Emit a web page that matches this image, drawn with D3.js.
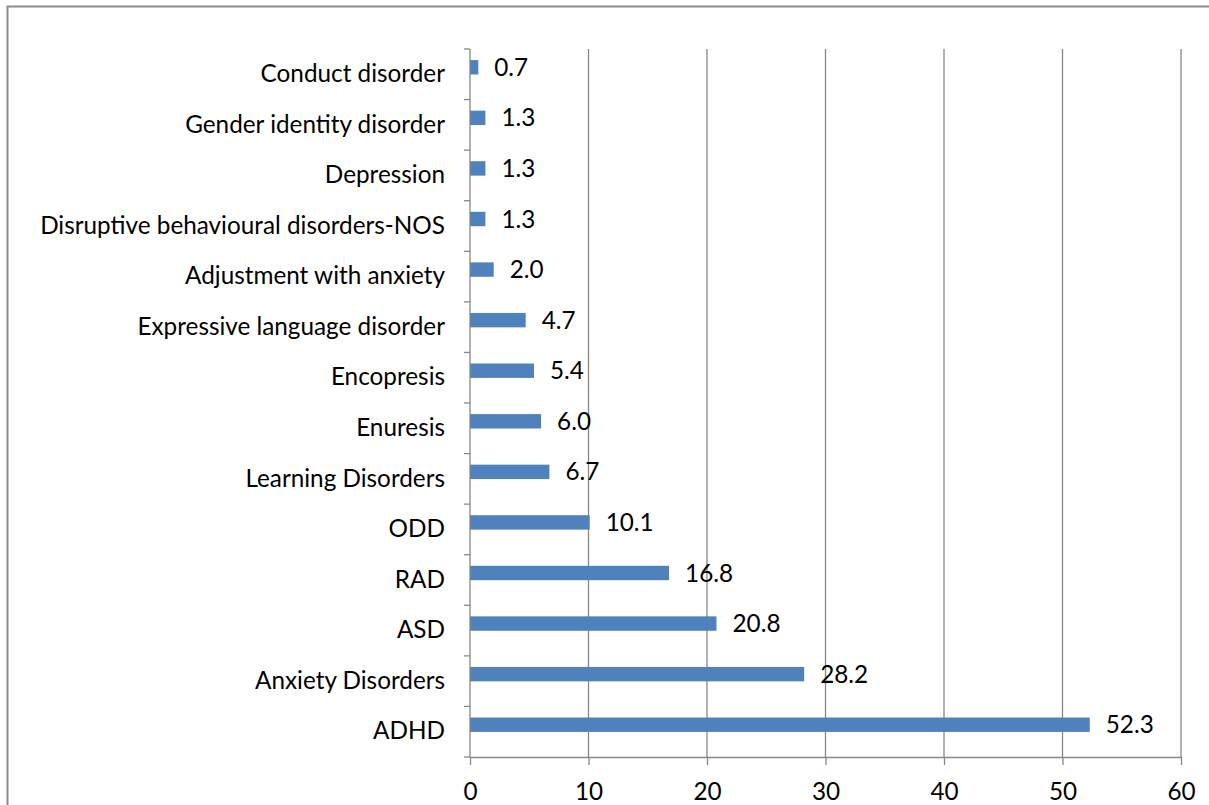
<!DOCTYPE html>
<html><head><meta charset="utf-8">
<script src="https://cdn.jsdelivr.net/npm/d3@7"></script>
<style>html,body{margin:0;padding:0;background:#fff;}svg{display:block;}</style>
</head><body>
<svg id="chart" width="1209" height="805"></svg>
<script>
const categories = ["ADHD","Anxiety Disorders","ASD","RAD","ODD","Learning Disorders","Enuresis","Encopresis","Expressive language disorder","Adjustment with anxiety","Disruptive behavioural disorders-NOS","Depression","Gender identity disorder","Conduct disorder"];
const values = [52.3,28.2,20.8,16.8,10.1,6.7,6.0,5.4,4.7,2.0,1.3,1.3,1.3,0.7];
const xTicks = [0,10,20,30,40,50,60];

(function(){
const svg = d3.select("#chart");
const font = "Lato, 'Open Sans', sans-serif";
const pLeft = 470, pRight = 1181, pTop = 49, pBottom = 757;

// outer border (left + top)
svg.append("path").attr("d","M7.5,805 V6.5 H1209").attr("fill","none").attr("stroke","#8c8c8c").attr("stroke-width",2);

const x = d3.scaleLinear().domain([0,60]).range([pLeft,pRight]);
const y = d3.scaleBand().domain(categories.slice().reverse()).range([pTop,pBottom]);

// fit font size to longest label width
const probe = svg.append("text").attr("font-family",font).attr("font-size",20).text("Disruptive behavioural disorders-NOS");
const w20 = probe.node().getComputedTextLength();
probe.remove();
const fs = 20*405/w20;

// gridlines
svg.append("g").selectAll("line").data(xTicks.filter(d=>d>0)).join("line")
  .attr("x1",d=>x(d)).attr("x2",d=>x(d)).attr("y1",pTop).attr("y2",pBottom)
  .attr("stroke","#878787").attr("stroke-width",1.3);

// bars
const bh = 14.4;
svg.append("g").selectAll("rect").data(categories).join("rect")
  .attr("x",x(0)).attr("y",(d)=>y(d)+y.bandwidth()/2-7-bh/2)
  .attr("width",(d,i)=>x(values[i])-x(0)).attr("height",bh)
  .attr("fill","#4f81bd");

// value labels
svg.append("g").selectAll("text").data(categories).join("text")
  .attr("x",(d,i)=>x(values[i])+16).attr("y",d=>y(d)+y.bandwidth()/2-7)
  .attr("dy","0.35em").attr("font-family",font).attr("font-size",fs).attr("fill","#000")
  .text((d,i)=>values[i].toFixed(1));

// y axis
const yAxis = d3.axisLeft(y).tickSize(0).tickPadding(25);
const gy = svg.append("g").attr("transform",`translate(${pLeft},0)`).call(yAxis);
gy.select(".domain").remove();
gy.selectAll("text").attr("font-family",font).attr("font-size",fs).attr("fill","#000");
// category boundary ticks
const bounds = d3.range(categories.length+1).map(i=>pTop+i*y.step());
svg.append("g").selectAll("line").data(bounds).join("line")
  .attr("x1",pLeft-6).attr("x2",pLeft).attr("y1",d=>d).attr("y2",d=>d)
  .attr("stroke","#878787").attr("stroke-width",1.3);
svg.append("line").attr("x1",pLeft).attr("x2",pLeft).attr("y1",pTop).attr("y2",pBottom)
  .attr("stroke","#878787").attr("stroke-width",1.3);

// x axis
const xAxis = d3.axisBottom(x).tickValues(xTicks).tickSize(8).tickPadding(18).tickFormat(d3.format("d"));
const gx = svg.append("g").attr("transform",`translate(0,${pBottom})`).call(xAxis);
gx.select(".domain").attr("stroke","#878787").attr("stroke-width",1.3).attr("d",`M${pLeft},0.5H${pRight}`);
gx.selectAll(".tick line").attr("stroke","#878787").attr("stroke-width",1.3);
gx.selectAll("text").attr("font-family",font).attr("font-size",fs).attr("fill","#000");
})();
</script>
</body></html>
